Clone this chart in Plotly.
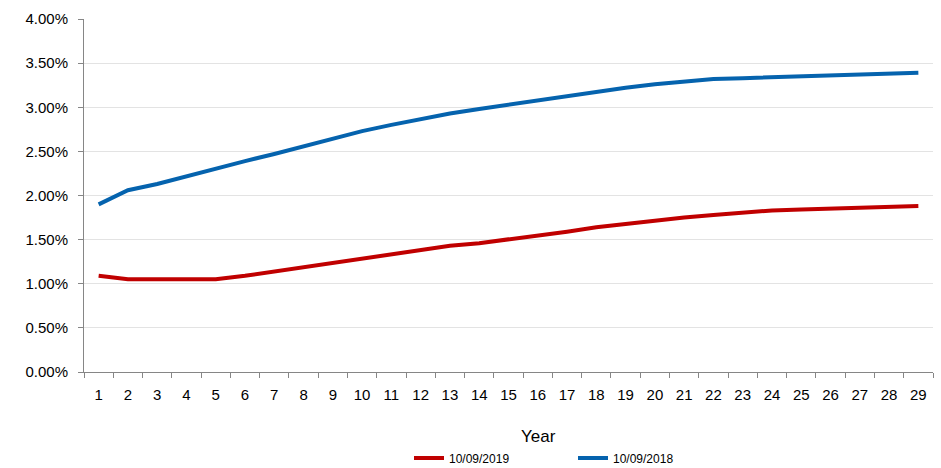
import plotly.graph_objects as go

years = [str(i) for i in range(1, 30)]
rates_2019 = [1.09, 1.05, 1.05, 1.05, 1.05, 1.09, 1.14, 1.19, 1.24, 1.29,
              1.33, 1.38, 1.43, 1.46, 1.50, 1.55, 1.59, 1.64, 1.68, 1.71,
              1.75, 1.78, 1.81, 1.83, 1.84, 1.85, 1.86, 1.87, 1.88]
rates_2018 = [1.90, 2.06, 2.13, 2.22, 2.30, 2.39, 2.47, 2.56, 2.65, 2.73,
              2.80, 2.87, 2.93, 2.98, 3.03, 3.08, 3.13, 3.18, 3.22, 3.26,
              3.29, 3.32, 3.33, 3.34, 3.35, 3.36, 3.37, 3.38, 3.39]
series_names = ["10/09/2019", "10/09/2018"]
y_ticks = [0, 0.005, 0.01, 0.015, 0.02, 0.025, 0.03, 0.035, 0.04]

RED = "#C00000"
BLUE = "#0563AE"
FONT = "Liberation Sans, Arial, sans-serif"

L, R, T, B = 84, 8, 19, 96
W, H = 941, 468
plot_w = W - L - R
plot_h = H - T - B

fig = go.Figure()
fig.add_trace(go.Scatter(x=years, y=[v / 100 for v in rates_2019], mode="lines",
                         name=series_names[0], line=dict(color=RED, width=4)))
fig.add_trace(go.Scatter(x=years, y=[v / 100 for v in rates_2018], mode="lines",
                         name=series_names[1], line=dict(color=BLUE, width=4)))

fig.update_layout(
    width=W, height=H,
    margin=dict(l=L, r=R, t=T, b=B, autoexpand=False),
    paper_bgcolor="white", plot_bgcolor="white",
    font=dict(family=FONT, size=15, color="#000000"),
    showlegend=True,
    legend=dict(orientation="h", x=(409 - L) / plot_w, xanchor="left",
                y=-(458 - (H - B)) / plot_h, yanchor="middle",
                font=dict(size=12, family=FONT), entrywidth=119, entrywidthmode="pixels",
                bgcolor="rgba(0,0,0,0)"),
    xaxis=dict(type="category", range=[-0.5, 28.5], showgrid=False, automargin=False,
               showline=True, linecolor="#868686", linewidth=1,
               ticks="outside", tickson="boundaries", ticklen=5, tickcolor="#868686",
               tickfont=dict(size=15), ticklabelstandoff=9),
    yaxis=dict(range=[0, 0.04], tickvals=y_ticks, tickformat=".2%", automargin=False,
               showgrid=True, gridcolor="#E3E3E3", gridwidth=1,
               showline=True, linecolor="#868686", linewidth=1,
               ticks="outside", ticklen=5, tickcolor="#868686",
               tickfont=dict(size=15), zeroline=False, ticklabelstandoff=7),
    annotations=[dict(text="Year", x=(538 - L) / plot_w, y=((H - B) - 436) / plot_h,
                      xref="paper", yref="paper", xanchor="center", yanchor="middle",
                      showarrow=False, font=dict(size=17, family=FONT))],
)

fig.write_html("out.html")
